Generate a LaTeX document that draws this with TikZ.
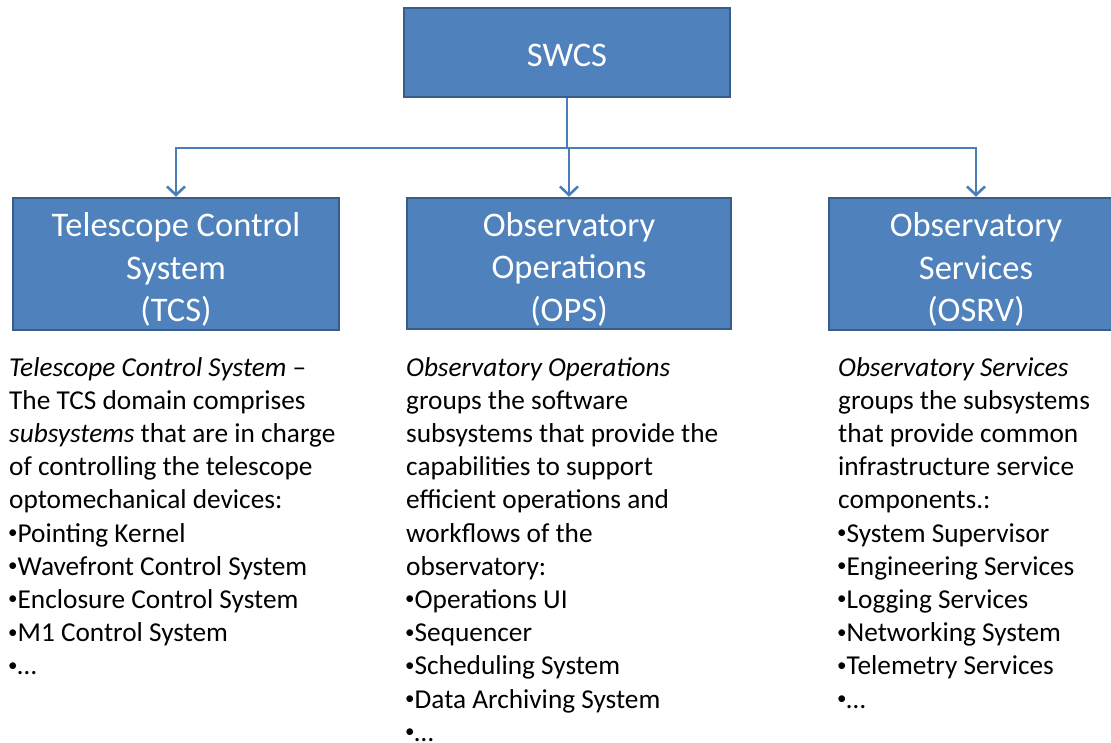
\documentclass[tikz,border=0pt]{standalone}
\usepackage{fontspec}
\setmainfont{Carlito}
\usetikzlibrary{arrows.meta}
\definecolor{boxfill}{HTML}{4F81BD}
\definecolor{boxline}{HTML}{385D8A}
\definecolor{conncol}{HTML}{4A7EBB}
\newcommand\bl{\hspace*{-1pt}{\fontsize{19}{0}\selectfont\raisebox{3.6pt}{•}}}
\begin{document}
\begin{tikzpicture}[x=1pt,y=-1pt,
 box/.style={draw=boxline, line width=2.5pt, fill=boxfill, text=white, align=center, inner sep=0pt, font=\fontsize{34.5}{42.5}\selectfont},
 conn/.style={draw=conncol, line width=1.5pt},
 arr/.style={conn, -{Straight Barb[length=8.5pt,width=18pt,line width=2.6pt]}},
 body/.style={align=left, inner sep=0pt, anchor=north west, font=\fontsize{27.3}{33.2}\selectfont}]
\useasboundingbox (0,0) rectangle (1111,742);
\begin{scope}
\clip (0,0) rectangle (1111,742);
\node[box, minimum width=326pt, minimum height=89pt] (swcs) at (567,52.5) {\rule{0pt}{29pt}SWCS};
\node[box, minimum width=326pt, minimum height=132pt] (tcs) at (176,264) {\rule{0pt}{35pt}Telescope Control\\System\\(TCS)};
\node[box, minimum width=324pt, minimum height=131pt] (ops) at (569,263.5) {\rule{0pt}{35pt}Observatory\\Operations\\(OPS)};
\node[box, minimum width=294pt, minimum height=132pt] (osrv) at (976,264) {\rule{0pt}{35pt}Observatory\\Services\\(OSRV)};
\coordinate (bus) at (swcs.south |- 0,148);
\draw[conn] (swcs.south) -- (bus);
\draw[arr] (bus) -| (tcs.north);
\draw[arr] (bus) -| (ops.north);
\draw[arr] (bus) -| (osrv.north);
\node[body] (tcstext) at (9,357) {\textit{Telescope Control System} –\\
The TCS domain comprises\\
\textit{subsystems} that are in charge\\
of controlling the telescope\\
optomechanical devices:\\
\bl Pointing Kernel\\
\bl Wavefront Control System\\
\bl Enclosure Control System\\
\bl M1 Control System\\
\bl …};
\node[body] (opstext) at (406,357) {\textit{Observatory Operations}\\
groups the software\\
subsystems that provide the\\
capabilities to support\\
efficient operations and\\
workflows of the\\
observatory:\\
\bl Operations UI\\
\bl Sequencer\\
\bl Scheduling System\\
\bl Data Archiving System\\
\bl …};
\node[body] (osrvtext) at (838,357) {\textit{Observatory Services}\\
groups the subsystems\\
that provide common\\
infrastructure service\\
components.:\\
\bl System Supervisor\\
\bl Engineering Services\\
\bl Logging Services\\
\bl Networking System\\
\bl Telemetry Services\\
\bl …};
\end{scope}
\end{tikzpicture}
\end{document}
